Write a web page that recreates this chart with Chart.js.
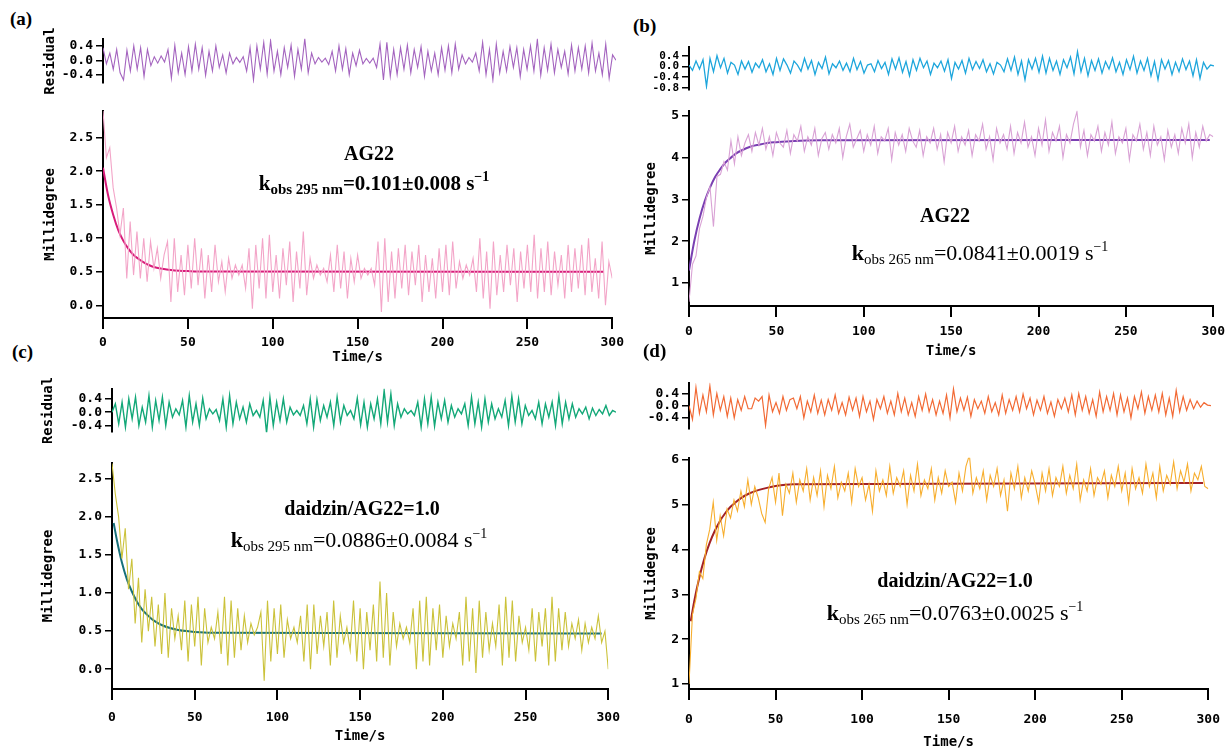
<!DOCTYPE html>
<html>
<head>
<meta charset="utf-8">
<script src="https://cdn.jsdelivr.net/npm/chart.js@4.4.0/dist/chart.umd.min.js"></script>
<style>
  body { margin: 0; background: #fff; width: 1232px; height: 753px; position: relative; overflow: hidden; }
  canvas { position: absolute; }
  .txt { position: absolute; font: bold 20px "Liberation Serif", serif; white-space: nowrap; transform: translate(-50%, -50%); color: #000; }
  .txt.k { font-size: 21px; }
  .txt.light { font-weight: normal; font-size: 22px; }
  .txt b { font-weight: bold; }
  .txt sub { font-size: 15px; vertical-align: -4px; line-height: 0; }
  .txt sup { font-size: 14px; vertical-align: 9px; line-height: 0; }
  .pl { position: absolute; font: bold 19px "Liberation Serif", serif; }
</style>
</head>
<body>
<canvas id="resA" width="588" height="66" style="left:42px;top:28px"></canvas>
<canvas id="mainA" width="588" height="266" style="left:42px;top:100px"></canvas>
<canvas id="resB" width="589" height="62" style="left:643px;top:37px"></canvas>
<canvas id="mainB" width="589" height="260" style="left:643px;top:100px"></canvas>
<canvas id="resC" width="590" height="65" style="left:40px;top:378px"></canvas>
<canvas id="mainC" width="590" height="293" style="left:40px;top:452px"></canvas>
<canvas id="resD" width="589" height="68" style="left:643px;top:372px"></canvas>
<canvas id="mainD" width="589" height="304" style="left:643px;top:447px"></canvas>

<div class="pl" style="left:10px;top:8px">(a)</div>
<div class="pl" style="left:633px;top:15px">(b)</div>
<div class="pl" style="left:12px;top:341px">(c)</div>
<div class="pl" style="left:643px;top:340px">(d)</div>

<div class="txt" style="left:369px;top:153px">AG22</div>
<div class="txt k" style="left:374px;top:183px">k<sub>obs 295 nm</sub>=0.101±0.008 s<sup>−1</sup></div>
<div class="txt" style="left:945px;top:215px">AG22</div>
<div class="txt light" style="left:980px;top:253px"><b>k</b><sub>obs 265 nm</sub>=0.0841±0.0019 s<sup>−1</sup></div>
<div class="txt" style="left:362px;top:508px">daidzin/AG22=1.0</div>
<div class="txt light" style="left:359px;top:540px"><b>k</b><sub>obs 295 nm</sub>=0.0886±0.0084 s<sup>−1</sup></div>
<div class="txt" style="left:955px;top:580px">daidzin/AG22=1.0</div>
<div class="txt light" style="left:955px;top:613px"><b>k</b><sub>obs 265 nm</sub>=0.0763±0.0025 s<sup>−1</sup></div>

<script>
// time axis (s) shared by the measured traces
const time = [0,2,4,6,8,10,12,14,16,18,
  20,22,24,26,28,30,32,34,36,38,
  40,42,44,46,48,50,52,54,56,58,
  60,62,64,66,68,70,72,74,76,78,
  80,82,84,86,88,90,92,94,96,98,
  100,102,104,106,108,110,112,114,116,118,
  120,122,124,126,128,130,132,134,136,138,
  140,142,144,146,148,150,152,154,156,158,
  160,162,164,166,168,170,172,174,176,178,
  180,182,184,186,188,190,192,194,196,198,
  200,202,204,206,208,210,212,214,216,218,
  220,222,224,226,228,230,232,234,236,238,
  240,242,244,246,248,250,252,254,256,258,
  260,262,264,266,268,270,272,274,276,278,
  280,282,284,286,288,290,292,294,296,298,300];

// (a) AG22, 295 nm
const residualA = [0.35,-0.10,0.20,-0.25,0.30,-0.35,-0.55,0.28,-0.30,0.40,
  -0.25,0.35,-0.45,0.30,-0.15,0.10,-0.08,0.12,-0.05,0.30,
  -0.50,0.42,-0.35,0.20,-0.40,0.38,-0.30,0.45,-0.25,0.35,
  -0.42,0.25,-0.30,0.40,-0.20,0.15,-0.35,0.20,-0.10,0.08,
  -0.06,0.10,-0.30,0.35,-0.55,0.40,-0.25,0.50,-0.38,0.55,
  -0.30,0.25,-0.40,0.35,-0.20,0.42,-0.45,0.30,-0.25,0.60,
  -0.35,0.20,-0.10,0.08,-0.05,0.06,-0.12,0.25,-0.30,0.40,
  -0.25,0.32,-0.40,0.20,-0.15,0.28,-0.10,0.05,-0.08,0.06,
  -0.20,0.45,-0.55,0.50,-0.45,0.30,-0.40,0.35,-0.25,0.42,
  -0.35,0.30,-0.20,0.38,-0.45,0.25,-0.30,0.20,-0.40,0.35,
  -0.28,0.40,-0.35,0.45,-0.25,0.15,-0.10,0.08,-0.05,0.20,
  -0.30,0.50,-0.40,0.30,-0.55,0.45,-0.35,0.25,-0.30,0.38,
  -0.20,0.35,-0.45,0.30,-0.25,0.40,-0.30,0.58,-0.42,0.35,
  -0.28,0.45,-0.35,0.30,-0.20,0.25,-0.38,0.42,-0.30,0.35,
  -0.25,0.40,-0.35,0.48,-0.30,0.20,-0.40,0.45,-0.50,0.15,0.00];
const signalA = [2.90,2.20,2.35,1.75,1.45,1.05,1.45,0.40,1.25,0.45,
  1.10,0.40,1.00,0.35,0.95,0.55,0.85,0.40,0.75,0.95,
  0.05,1.00,0.20,0.75,0.15,0.90,0.25,1.00,0.30,0.85,
  0.10,0.75,0.20,0.90,0.35,0.65,0.20,0.70,0.40,0.60,
  0.45,0.60,0.25,0.85,-0.05,0.90,0.25,1.00,0.10,1.05,
  0.20,0.75,0.10,0.85,0.30,0.95,0.05,0.80,0.25,1.10,
  0.15,0.70,0.40,0.60,0.45,0.55,0.35,0.75,0.20,0.90,
  0.25,0.80,0.10,0.70,0.35,0.75,0.40,0.55,0.45,0.55,
  0.30,0.95,-0.10,1.00,0.05,0.80,0.10,0.85,0.25,0.90,
  0.15,0.80,0.30,0.90,0.05,0.75,0.20,0.70,0.10,0.85,
  0.20,0.90,0.15,0.95,0.25,0.65,0.40,0.60,0.45,0.70,
  0.20,1.00,0.10,0.80,-0.05,0.95,0.15,0.75,0.20,0.90,
  0.30,0.85,0.05,0.80,0.25,0.90,0.20,1.05,0.10,0.85,
  0.20,0.95,0.15,0.80,0.30,0.75,0.10,0.90,0.20,0.85,
  0.25,0.90,0.15,1.00,0.20,0.70,0.10,0.95,0.00,0.65,0.40];
const fitTimeA = [0,3,6,9,12,15,18,21,24,27,30,35,40,45,50,60,295];
const fitA = [2.05,1.64,1.35,1.12,0.96,0.84,0.75,0.69,0.64,0.60,0.57,0.545,0.527,0.516,0.51,0.503,0.50];

// (b) AG22, 265 nm
const residualB = [0.05,-0.15,0.20,-0.10,0.25,-0.75,0.30,-0.20,0.40,-0.05,
  0.30,-0.25,0.15,0.05,-0.30,0.20,-0.10,0.18,-0.22,0.12,
  -0.05,0.25,-0.20,0.10,-0.30,0.30,-0.15,0.28,0.05,-0.25,
  0.20,0.05,-0.18,0.30,-0.10,0.22,-0.30,0.15,-0.08,0.35,
  -0.28,0.10,-0.05,0.20,-0.15,0.12,-0.20,0.30,-0.12,0.18,
  -0.25,0.05,0.10,-0.20,0.22,-0.08,0.15,-0.30,0.28,-0.10,
  0.32,-0.22,0.18,-0.35,0.25,-0.15,0.30,-0.05,0.20,-0.30,
  0.12,-0.05,0.20,-0.18,0.25,-0.45,0.15,-0.10,0.22,-0.25,
  0.30,-0.12,0.18,-0.08,0.25,-0.20,0.10,-0.28,0.15,0.05,
  -0.20,0.28,-0.15,0.35,-0.30,0.20,-0.50,0.25,-0.10,0.30,
  -0.22,0.38,-0.25,0.30,-0.15,0.20,-0.30,0.25,-0.05,0.35,
  -0.28,0.55,-0.20,0.30,-0.35,0.22,-0.15,0.28,-0.25,0.18,
  -0.10,0.32,-0.20,0.15,-0.30,0.25,-0.12,0.38,-0.25,0.20,
  -0.15,0.30,-0.35,0.18,-0.50,0.25,-0.10,0.22,-0.30,0.15,
  -0.20,0.28,-0.12,0.20,-0.35,0.25,-0.45,0.15,-0.10,0.05,0.02];
const signalB = [0.55,1.45,1.65,2.30,2.60,3.05,3.30,2.35,3.55,3.60,
  3.90,3.70,4.40,3.85,4.50,4.05,4.35,4.55,4.15,4.60,
  4.30,4.70,4.20,4.50,4.05,4.60,4.35,4.25,4.65,4.10,
  4.55,4.40,4.75,4.15,4.50,4.30,4.70,4.05,4.45,4.60,
  4.20,4.55,4.35,4.70,4.00,4.50,4.80,4.25,4.45,4.65,
  4.15,4.55,4.30,4.75,4.10,4.50,4.40,4.70,3.95,4.60,
  4.30,4.55,4.15,4.70,4.40,4.25,4.65,4.05,4.50,4.35,
  4.70,4.20,4.55,3.90,4.60,4.35,4.75,4.15,4.50,4.30,
  4.65,4.05,4.55,4.40,4.80,4.20,4.50,3.95,4.70,4.35,
  4.55,4.20,4.75,4.10,4.60,4.35,4.85,4.25,4.50,4.05,
  4.70,4.30,4.90,4.15,4.60,4.40,4.75,4.00,4.55,4.35,
  4.80,5.10,4.25,4.65,4.05,4.55,4.40,4.75,4.15,4.60,
  4.30,4.85,4.10,4.50,4.35,4.70,3.95,4.55,4.40,4.80,
  4.20,4.60,4.05,4.75,4.30,4.50,3.95,4.65,4.25,4.55,
  4.10,4.70,4.35,4.80,4.00,4.60,4.25,4.75,4.40,4.55,4.50];
const fitTimeB = [0,3,6,9,12,15,18,21,24,27,30,35,40,45,50,60,75,298];
const fitB = [1.30,2.00,2.54,2.96,3.28,3.54,3.73,3.89,4.00,4.10,4.17,4.26,4.31,4.35,4.37,4.40,4.415,4.42];

// (c) daidzin/AG22 = 1.0, 295 nm
const residualC = [0.00,0.25,-0.35,0.30,-0.45,0.40,-0.20,0.45,-0.40,0.15,
  -0.30,0.50,-0.45,0.35,-0.25,0.45,-0.40,0.30,-0.15,0.10,
  -0.08,0.35,-0.45,0.50,-0.30,0.25,-0.40,0.42,-0.20,0.10,
  -0.05,0.08,-0.25,0.40,-0.45,0.50,-0.35,0.30,-0.20,0.15,
  -0.30,0.25,-0.10,0.05,-0.15,0.35,-0.62,0.45,-0.40,0.30,
  -0.25,0.40,-0.30,0.15,-0.08,0.05,-0.10,0.20,-0.35,0.40,
  -0.45,0.38,-0.25,0.20,-0.15,0.30,-0.40,0.45,-0.30,0.20,
  -0.10,0.05,-0.20,0.42,-0.38,0.30,-0.45,0.25,-0.20,0.40,
  -0.35,0.65,-0.30,0.55,-0.40,0.25,-0.15,0.10,-0.05,0.05,
  -0.10,0.30,-0.45,0.40,-0.35,0.45,-0.42,0.30,-0.20,0.35,
  -0.30,0.20,-0.15,0.10,-0.05,0.25,-0.40,0.45,-0.35,0.30,
  -0.45,0.40,-0.30,0.25,-0.20,0.10,-0.15,0.35,-0.40,0.48,
  -0.30,0.40,-0.35,0.20,-0.10,0.05,-0.20,0.30,-0.35,0.25,
  -0.15,0.30,-0.40,0.48,-0.35,0.30,-0.20,0.25,-0.15,0.10,
  -0.05,0.15,-0.20,0.12,-0.10,0.08,-0.05,0.20,-0.10,0.05,0.00];
const signalC = [2.70,2.30,2.00,1.45,1.85,1.05,1.45,0.60,1.20,0.35,
  1.05,0.50,0.95,0.30,0.85,0.20,1.00,0.15,0.80,0.40,
  0.70,0.25,0.90,0.10,0.85,0.30,0.95,0.05,0.80,0.35,
  0.55,0.40,0.75,0.20,0.95,0.05,0.90,0.15,0.80,0.25,
  0.70,0.35,0.60,0.45,0.55,0.75,-0.15,0.90,0.10,0.80,
  0.20,0.85,0.15,0.65,0.40,0.55,0.35,0.70,0.10,0.85,
  0.00,0.85,0.20,0.70,0.30,0.75,0.05,0.90,0.15,0.70,
  0.35,0.55,0.25,0.90,0.10,0.80,0.00,0.75,0.25,0.85,
  0.10,1.15,0.15,1.00,0.05,0.75,0.30,0.60,0.40,0.55,
  0.35,0.80,0.00,0.90,0.10,0.95,0.05,0.80,0.25,0.85,
  0.15,0.70,0.30,0.60,0.40,0.75,0.05,0.95,0.10,0.80,
  -0.05,0.90,0.15,0.75,0.25,0.60,0.30,0.85,0.05,0.95,
  0.15,0.90,0.10,0.70,0.35,0.55,0.25,0.80,0.10,0.75,
  0.30,0.80,0.05,0.95,0.10,0.80,0.25,0.75,0.30,0.60,
  0.40,0.65,0.25,0.60,0.35,0.55,0.40,0.70,0.35,0.50,0.00];
const fitTimeC = [1,3,6,9,12,15,18,21,24,27,30,35,40,45,50,60,296];
const fitC = [1.92,1.69,1.40,1.18,1.02,0.89,0.79,0.72,0.66,0.615,0.58,0.54,0.516,0.50,0.49,0.48,0.47];

// (d) daidzin/AG22 = 1.0, 265 nm
const residualD = [0.00,-0.45,0.60,-0.25,0.35,-0.20,0.65,-0.30,0.40,-0.15,
  0.30,-0.35,0.25,-0.40,0.20,-0.15,0.30,-0.10,-0.10,0.25,
  0.15,0.30,-0.65,0.35,-0.20,0.10,-0.25,0.30,-0.15,0.20,
  0.25,-0.10,0.30,-0.40,0.15,-0.20,0.35,-0.25,0.18,-0.30,
  0.20,-0.15,0.35,-0.25,0.10,-0.30,0.28,-0.15,0.25,-0.35,
  0.30,-0.20,0.15,-0.45,0.20,-0.10,0.30,-0.25,0.15,-0.30,
  0.40,-0.20,0.25,-0.30,0.10,-0.35,0.30,-0.15,0.38,-0.20,
  0.20,-0.30,0.15,-0.25,0.35,-0.40,0.55,-0.20,0.25,-0.15,
  0.28,-0.35,0.20,-0.10,0.15,-0.25,0.30,-0.20,0.10,-0.30,
  0.35,-0.25,0.20,-0.15,0.30,-0.20,0.38,-0.10,0.25,-0.30,
  0.18,-0.15,0.30,-0.25,0.12,-0.35,0.20,-0.10,0.25,-0.20,
  0.35,-0.30,0.40,-0.15,0.30,-0.25,0.20,-0.35,0.45,-0.20,
  0.30,-0.15,0.40,-0.30,0.35,-0.20,0.25,-0.40,0.30,-0.10,
  0.45,-0.25,0.30,-0.15,0.35,-0.20,0.40,-0.30,0.25,-0.35,
  0.50,-0.20,0.30,-0.15,0.20,-0.10,0.15,-0.05,0.10,0.02,0.00];
const signalD = [1.00,2.55,2.90,3.50,3.35,4.10,4.45,5.05,4.20,4.75,
  4.30,4.90,4.70,5.10,4.85,5.30,4.95,5.55,5.00,5.40,
  5.15,4.80,4.60,5.35,5.60,5.05,5.70,4.75,5.45,5.25,
  5.70,5.05,5.55,5.30,5.80,5.10,5.60,5.20,5.75,4.95,
  5.65,5.35,5.85,5.15,5.50,5.30,5.70,5.05,5.80,5.40,
  5.60,5.10,5.45,4.85,5.75,5.30,5.55,5.20,5.85,5.25,
  5.60,5.40,5.75,5.00,5.65,5.30,5.90,5.20,5.55,5.35,
  5.80,5.10,5.60,5.25,5.75,5.40,5.50,5.05,5.70,5.30,
  5.85,6.10,5.25,5.60,5.35,5.75,5.10,5.65,5.40,5.80,
  5.20,5.55,4.85,5.70,5.35,5.85,5.15,5.60,5.30,5.75,
  5.45,5.05,5.70,5.30,5.80,5.20,5.60,5.40,5.85,5.25,
  5.65,5.35,5.90,5.10,5.55,5.30,5.80,5.20,5.60,5.45,
  5.75,5.15,5.65,5.40,5.85,5.30,5.70,5.05,5.80,5.35,
  5.60,5.25,5.90,5.40,5.70,5.15,5.85,5.30,5.65,5.45,
  5.95,5.35,5.75,5.50,5.90,5.30,5.70,5.55,5.85,5.40,5.35];
const fitTimeD = [1,3,6,9,12,15,18,21,24,27,30,35,40,45,50,60,297];
const fitD = [2.40,2.84,3.38,3.81,4.15,4.42,4.64,4.81,4.95,5.05,5.14,5.25,5.32,5.37,5.41,5.45,5.48];

// tick values and their labels
const timeTicks = [0,50,100,150,200,250,300];
const resTicks = [-0.4,0,0.4];
const resLabels = ['-0.4','0.0','0.4'];
const resTicksB = [-0.8,-0.4,0,0.4];
const resLabelsB = ['-0.8','-0.4','0.0','0.4'];
const mdegTicksAC = [0,0.5,1,1.5,2,2.5];
const mdegLabelsAC = ['0.0','0.5','1.0','1.5','2.0','2.5'];
const mdegTicksB = [1,2,3,4,5];
const mdegLabelsB = ['1','2','3','4','5'];
const mdegTicksD = [1,2,3,4,5,6];
const mdegLabelsD = ['1','2','3','4','5','6'];

Chart.defaults.animation = false;
Chart.defaults.events = [];

const monoFont = (size) => ({ family: '"DejaVu Sans Mono", monospace', weight: 'bold', size });
const pts = (xs, ys) => xs.map((x, i) => ({ x, y: ys[i] }));

function yAxis(o) {
  return {
    type: 'linear', position: 'left', min: o.min, max: o.max,
    afterBuildTicks: s => { s.ticks = o.ticks.map(v => ({ value: v })); },
    afterFit: s => { s.width = o.width; },
    ticks: { color: '#000', font: monoFont(o.fontSize || 13), padding: 3, autoSkip: false, callback: (v, i) => o.labels[i] },
    grid: { drawOnChartArea: false, drawTicks: true, tickLength: 7, color: '#000', lineWidth: 1.5 },
    border: { display: true, color: '#000', width: 2 },
    title: { display: !!o.title, text: o.title, color: '#000', font: monoFont(14), padding: 0 }
  };
}

function xAxis(show, height, labelGap) {
  return {
    type: 'linear', min: 0, max: 300, display: show,
    afterBuildTicks: s => { s.ticks = timeTicks.map(v => ({ value: v })); },
    afterFit: s => { s.height = height; },
    ticks: { color: '#000', font: monoFont(13), padding: labelGap, maxRotation: 0, autoSkip: false },
    grid: { drawOnChartArea: false, drawTicks: true, tickLength: 11, color: '#000', lineWidth: 2 },
    border: { display: true, color: '#000', width: 2 },
    title: { display: true, text: 'Time/s', color: '#000', font: monoFont(14), padding: 0 }
  };
}

function line(data, color, width, smooth) {
  return {
    data, borderColor: color, borderWidth: width, pointRadius: 0, fill: false,
    cubicInterpolationMode: smooth ? 'monotone' : 'default', tension: 0
  };
}

function plot(id, datasets, x, y, pad) {
  new Chart(document.getElementById(id), {
    type: 'line',
    data: { datasets },
    options: {
      responsive: false,
      layout: { padding: pad },
      plugins: { legend: { display: false }, tooltip: { enabled: false } },
      scales: { x, y }
    }
  });
}

// (a)
plot('resA', [line(pts(time, residualA), '#a464bf', 1.1)],
  xAxis(false, 0, 0),
  yAxis({ min: -0.64, max: 0.6, ticks: resTicks, labels: resLabels, width: 61, title: 'Residual' }),
  { left: 0, right: 14, top: 6, bottom: 5 });
plot('mainA', [line(pts(time, signalA), '#f3a5c8', 1.1), line(pts(fitTimeA, fitA), '#d81b7a', 2, true)],
  xAxis(true, 48, 6),
  yAxis({ min: -0.19, max: 2.9, ticks: mdegTicksAC, labels: mdegLabelsAC, width: 61, title: 'Millidegree' }),
  { left: 0, right: 14, top: 7, bottom: 0 });

// (b)
plot('resB', [line(pts(time, residualB), '#1ea6dc', 1.3)],
  xAxis(false, 0, 0),
  yAxis({ min: -0.86, max: 0.74, ticks: resTicksB, labels: resLabelsB, width: 46, fontSize: 11 }),
  { left: 0, right: 18, top: 6, bottom: 4 });
plot('mainB', [line(pts(time, signalB), '#d9a2d5', 1.1), line(pts(fitTimeB, fitB), '#7a3fb2', 2, true)],
  xAxis(true, 54, 7),
  yAxis({ min: 0.45, max: 5.12, ticks: mdegTicksB, labels: mdegLabelsB, width: 46, title: 'Millidegree' }),
  { left: 0, right: 18, top: 10, bottom: 0 });

// (c)
plot('resC', [line(pts(time, residualC), '#13a878', 1.4)],
  xAxis(false, 0, 0),
  yAxis({ min: -0.6, max: 0.7, ticks: resTicks, labels: resLabels, width: 72, title: 'Residual' }),
  { left: 0, right: 14, top: 7, bottom: 7 });
plot('mainC', [line(pts(time, signalC), '#cbc23a', 1.1), line(pts(fitTimeC, fitC), '#17707a', 2, true)],
  xAxis(true, 56, 10),
  yAxis({ min: -0.26, max: 2.71, ticks: mdegTicksAC, labels: mdegLabelsAC, width: 72, title: 'Millidegree' }),
  { left: 0, right: 14, top: 8, bottom: 0 });

// (d)
plot('resD', [line(pts(time, residualD), '#f26a35', 1.2)],
  xAxis(false, 0, 0),
  yAxis({ min: -0.77, max: 0.75, ticks: resTicks, labels: resLabels, width: 46 }),
  { left: 0, right: 21, top: 6, bottom: 5 });
plot('mainD', [line(pts(time, signalD), '#f7ae2e', 1.1), line(pts(fitTimeD, fitD), '#a32226', 2, true)],
  xAxis(true, 62, 12),
  yAxis({ min: 0.89, max: 6.04, ticks: mdegTicksD, labels: mdegLabelsD, width: 46, title: 'Millidegree' }),
  { left: 0, right: 21, top: 8, bottom: 0 });
</script>
</body>
</html>
